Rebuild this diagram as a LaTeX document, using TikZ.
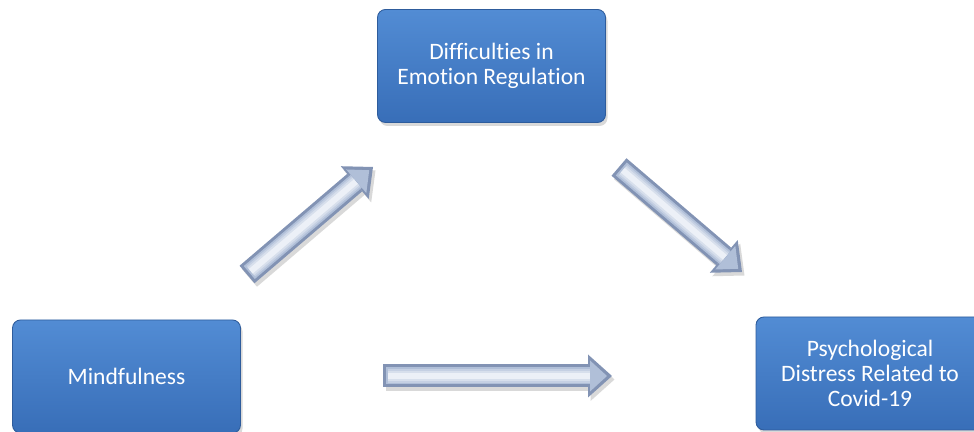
\documentclass[tikz,border=0pt]{standalone}
\usepackage{fontspec}
\setmainfont{Carlito}[Ligatures=NoCommon]
\usetikzlibrary{arrows.meta,shadows}

\definecolor{boxtop}{RGB}{82,140,212}
\definecolor{boxmid}{RGB}{64,127,202}
\definecolor{boxbottom}{RGB}{56,110,184}
\definecolor{boxedge}{RGB}{46,92,156}
\definecolor{arrowdark}{RGB}{130,147,180}
\definecolor{arrowmid}{RGB}{176,191,216}
\definecolor{arrowlight}{RGB}{236,240,247}

\begin{document}
\begin{tikzpicture}[
  factor/.style={rounded corners=0.16cm, draw=boxedge, line width=0.5pt,
    top color=boxtop, middle color=boxmid, bottom color=boxbottom,
    text=white, align=center, minimum width=4.56cm, minimum height=2.26cm,
    font=\fontsize{13.4}{14.2}\selectfont,
    drop shadow={opacity=0.3, shadow xshift=0.04cm, shadow yshift=-0.07cm}},
  arrowshadow/.style={draw=black, opacity=0.15, line width=0.46cm,
    -{Triangle[length=0.48cm, width=0.86cm, line width=0pt]},
    transform canvas={shift={(0.05cm,-0.07cm)}}},
  arrowbody/.style={draw=arrowdark, line width=0.46cm,
    -{Triangle[length=0.48cm, width=0.86cm, line width=0pt]}},
  arrowbevel/.style={draw=arrowmid, line width=0.34cm,
    -{Triangle[length=0.34cm, width=0.62cm, line width=0pt]},
    shorten >=0.1cm, shorten <=0.06cm},
  arrowshine/.style={shorten >=0.45cm, shorten <=0.1cm}
]
  \useasboundingbox (0,0) rectangle (19.48,8.64);

  \node[factor] (emoreg) at (9.83,7.32) {Difficulties in\\Emotion Regulation};
  \node[factor] (mindful) at (2.53,1.11) {Mindfulness};
  \node[factor] (distress) at (17.4,1.17) {Psychological\\Distress Related to\\Covid-19};

  % ends of the block arrows
  \coordinate (m2e-s) at (4.94,3.15);
  \coordinate (m2e-e) at (7.46,5.30);
  \coordinate (e2d-s) at (12.38,5.30);
  \coordinate (e2d-e) at (14.84,3.20);
  \coordinate (m2d-s) at (7.66,1.12);
  \coordinate (m2d-e) at (12.24,1.12);

  \foreach \a in {m2e,e2d,m2d} {
    \draw[arrowshadow] (\a-s) -- (\a-e);
    \draw[arrowbody] (\a-s) -- (\a-e);
    \draw[arrowbevel] (\a-s) -- (\a-e);
    \foreach \w/\m in {0.27/35,0.2/65,0.12/100}
      \draw[arrowshine, line width=\w cm, draw=arrowlight!\m!arrowmid] (\a-s) -- (\a-e);
  }
\end{tikzpicture}
\end{document}
